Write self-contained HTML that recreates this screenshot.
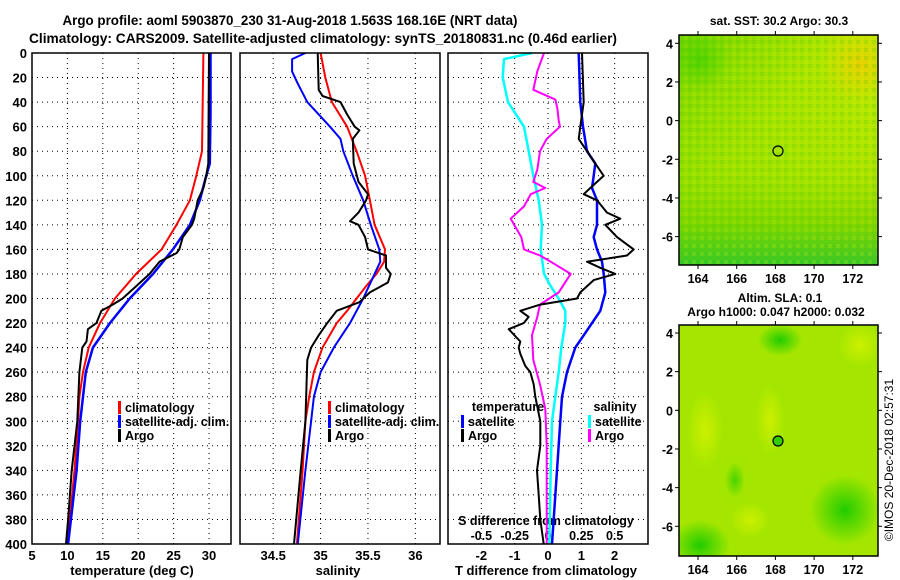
<!DOCTYPE html>
<html><head><meta charset="utf-8"><title>Argo profile</title>
<style>
html,body{margin:0;padding:0;background:#fff;}
svg{display:block;font-family:"Liberation Sans",Arial,sans-serif;font-weight:bold;}
text{fill:#000;}
</style></head>
<body>
<svg id="chart" xmlns="http://www.w3.org/2000/svg" width="900" height="580" viewBox="0 0 900 580">
<defs>
  <clipPath id="c1"><rect x="679" y="35" width="199" height="230"/></clipPath>
  <clipPath id="c2"><rect x="679" y="325" width="199" height="231"/></clipPath>
  <linearGradient id="m1a" x1="0" y1="0" x2="1" y2="1">
    <stop offset="0" stop-color="#70d400"/><stop offset="0.4" stop-color="#b0e600"/><stop offset="0.7" stop-color="#c8ec00"/><stop offset="1" stop-color="#e8e000"/>
  </linearGradient>
  <linearGradient id="m1b" x1="0" y1="0" x2="0" y2="1">
    <stop offset="0" stop-color="#88dc00" stop-opacity="0"/><stop offset="0.6" stop-color="#88dc00" stop-opacity="0.5"/><stop offset="0.82" stop-color="#66d000" stop-opacity="0.75"/><stop offset="1" stop-color="#22c430" stop-opacity="0.9"/>
  </linearGradient>
  <radialGradient id="g1"><stop offset="0" stop-color="#22cc00"/><stop offset="1" stop-color="#22cc00" stop-opacity="0"/></radialGradient>
  <radialGradient id="y1"><stop offset="0" stop-color="#ccf000"/><stop offset="1" stop-color="#ccf000" stop-opacity="0"/></radialGradient>
  <radialGradient id="o1"><stop offset="0" stop-color="#f8c800"/><stop offset="1" stop-color="#f0d800" stop-opacity="0"/></radialGradient>
  <pattern id="tex" width="8" height="8" patternUnits="userSpaceOnUse">
    <rect x="0" y="0" width="4" height="4" fill="#55cc00" opacity="0.25"/>
    <rect x="4" y="4" width="4" height="4" fill="#ddee00" opacity="0.2"/>
  </pattern>
</defs>

<text x="290" y="25" font-size="13.5" text-anchor="middle" textLength="455" lengthAdjust="spacingAndGlyphs">Argo profile: aoml 5903870_230 31-Aug-2018 1.563S 168.16E (NRT data)</text>
<text x="323" y="43" font-size="13.5" text-anchor="middle" textLength="588" lengthAdjust="spacingAndGlyphs">Climatology: CARS2009. Satellite-adjusted climatology: synTS_20180831.nc (0.46d earlier)</text>

<g id="p1"></g>
<g id="p2"></g>
<g id="p3"></g>

<g>
  <text x="779" y="25" font-size="12" text-anchor="middle">sat. SST: 30.2 Argo: 30.3</text>
  <g clip-path="url(#c1)">
  <rect x="679" y="35" width="199" height="230" fill="url(#m1a)"/>
  <rect x="679" y="35" width="199" height="230" fill="url(#m1b)"/>
  <ellipse cx="860" cy="65" rx="40" ry="40" fill="url(#o1)" opacity="0.8"/>
  <rect x="679" y="35" width="199" height="230" fill="url(#tex)"/>
  <ellipse cx="700" cy="60" rx="30" ry="30" fill="url(#g1)" opacity="0.5"/>
  </g>
  <circle cx="778" cy="151" r="5" fill="none" stroke="#000" stroke-width="1.2"/>
  <rect x="679" y="35" width="199" height="230" fill="none" stroke="#000" stroke-width="1.5"/>
  <g id="m1ticks"></g>
</g>
<g>
  <text x="780" y="302" font-size="12" text-anchor="middle">Altim. SLA: 0.1</text>
  <text x="776" y="316" font-size="12" text-anchor="middle">Argo h1000: 0.047 h2000: 0.032</text>
  <g clip-path="url(#c2)">
  <rect x="679" y="325" width="199" height="231" fill="#a4e600"/>
  <ellipse cx="780" cy="340" rx="22" ry="16" fill="url(#g1)"/>
  <ellipse cx="845" cy="510" rx="35" ry="35" fill="url(#g1)"/>
  <ellipse cx="700" cy="545" rx="30" ry="25" fill="url(#g1)"/>
  <ellipse cx="735" cy="480" rx="10" ry="18" fill="url(#g1)" opacity="0.7"/>
  <ellipse cx="705" cy="430" rx="18" ry="40" fill="url(#y1)"/>
  <ellipse cx="770" cy="420" rx="15" ry="35" fill="url(#y1)"/>
  <ellipse cx="860" cy="345" rx="22" ry="22" fill="url(#y1)"/>
  <ellipse cx="750" cy="520" rx="20" ry="18" fill="url(#y1)"/>
  </g>
  <circle cx="778" cy="441" r="5" fill="#33cc00" stroke="#000" stroke-width="1.2"/>
  <rect x="679" y="325" width="199" height="231" fill="none" stroke="#000" stroke-width="1.5"/>
  <g id="m2ticks"></g>
</g>
<text transform="translate(893,460) rotate(-90)" font-size="12" font-weight="normal" text-anchor="middle">©IMOS 20-Dec-2018 02:57:31</text>
</svg>
<script>
const depthTicks = [0,20,40,60,80,100,120,140,160,180,200,220,240,260,280,300,320,340,360,380,400];
const tempTicks = [5,10,15,20,25,30];
const salTicks = [34.5,35,35.5,36];
const tdiffTicks = [-2,-1,0,1,2];
const sdiffTicks = [-0.5,-0.25,0,0.25,0.5];
const sdiffTickLabels = ['-0.5','-0.25','0','0.25','0.5'];

const tClimDepth = [0,80,100,120,140,160,180,200,220,240,260,280,300,340,400];
const tClim =      [29.2,29.0,28.2,27.3,25.4,23.3,19.7,16.7,14.6,13.0,12.2,11.7,11.5,11.0,10.0];
const tSatDepth = [0,50,90,100,120,140,160,180,200,220,240,260,280,300,340,400];
const tSat =      [30.2,30.2,30.1,29.6,28.7,27.3,24.9,22.1,18.8,16.0,13.6,12.6,12.2,11.8,11.3,10.1];
const tArgoDepth = [0,90,100,110,120,135,140,150,160,163,170,180,190,200,205,210,220,225,235,240,260,300,340,380,400];
const tArgo =      [30.0,29.9,29.6,29.2,28.4,27.9,27.6,26.3,25.8,25.4,23.0,21.6,19.7,17.8,16.4,14.8,14.1,12.9,12.7,12.1,11.7,11.4,10.6,10.1,9.8];

const sClimDepth = [0,20,40,60,80,100,120,140,160,170,180,190,200,210,220,240,260,280,300,340,400];
const sClim =      [35.0,35.05,35.12,35.28,35.38,35.47,35.52,35.57,35.68,35.67,35.59,35.48,35.38,35.28,35.17,35.02,34.93,34.88,34.84,34.81,34.75];
const sSatDepth = [0,5,15,25,40,60,70,80,100,120,140,160,170,180,200,220,240,260,280,300,340,400];
const sSat =      [34.84,34.7,34.7,34.76,34.86,35.1,35.21,35.24,35.34,35.45,35.53,35.62,35.63,35.57,35.45,35.31,35.14,35.0,34.93,34.9,34.84,34.76];
const sArgoDepth = [0,30,35,40,50,60,63,70,90,105,115,120,130,137,140,150,160,165,175,180,187,195,203,210,220,230,240,250,300,340,400];
const sArgo =      [34.97,34.98,35.02,35.21,35.28,35.36,35.41,35.34,35.35,35.4,35.5,35.48,35.4,35.31,35.4,35.47,35.5,35.69,35.69,35.74,35.71,35.52,35.41,35.17,35.07,34.98,34.9,34.86,34.84,34.79,34.72];

const dtSatDepth = [0,40,60,80,90,100,110,120,140,150,160,170,180,195,210,220,230,240,260,280,300,340,400];
const dtSat =      [0.92,0.97,1.05,1.17,1.42,1.37,1.32,1.47,1.47,1.37,1.47,1.62,1.67,1.72,1.57,1.32,1.07,0.82,0.57,0.42,0.37,0.27,0.12];
const dtArgoDepth = [0,40,60,70,80,90,100,110,115,120,130,135,140,150,160,165,170,175,180,185,195,200,205,210,215,220,225,235,240,245,255,260,270,280,300,320,340,360,380,400];
const dtArgo =      [1.02,1.07,0.97,0.92,1.17,1.42,1.67,1.27,1.07,1.47,1.77,2.17,1.72,2.07,2.57,2.37,1.17,1.57,2.02,1.37,0.97,0.87,-0.23,-0.83,-0.58,-0.73,-1.18,-0.83,-0.88,-0.83,-0.68,-0.53,-0.43,-0.38,-0.23,-0.23,-0.33,-0.28,-0.23,-0.13];
const dsSatDepth = [0,5,20,40,60,80,100,120,140,160,180,190,200,210,220,240,260,280,300,340,400];
const dsSat =      [-0.12,-0.33,-0.34,-0.3,-0.18,-0.145,-0.11,-0.07,-0.045,-0.055,-0.03,0.02,0.08,0.13,0.13,0.1,0.08,0.055,0.03,0.02,0.01];
const dsArgoDepth = [0,15,30,38,45,55,60,70,80,95,105,110,115,125,135,150,160,165,170,180,185,195,205,215,230,250,270,290,320,400];
const dsArgo =      [-0.03,-0.08,-0.11,0.055,0.07,0.08,0.09,-0.01,-0.06,-0.08,-0.11,-0.02,-0.13,-0.18,-0.28,-0.2,-0.18,-0.06,0.02,0.17,0.14,0.08,-0.06,-0.08,-0.12,-0.11,-0.06,-0.02,-0.01,-0.01];

const latTicks = [4,2,0,-2,-4,-6];
const lonTicks = [164,166,168,170,172];

const NS='http://www.w3.org/2000/svg';
function mk(parent,tag,attrs){const e=document.createElementNS(NS,tag);for(const k in attrs)e.setAttribute(k,attrs[k]);parent.appendChild(e);return e;}
const Y0=53,Y1=544;
const yD = d => Y0 + d*(Y1-Y0)/400;

function panel(g,x0,x1,xmin,xmax,ticks,labels,showDepth){
  const sx = v => x0 + (v-xmin)*(x1-x0)/(xmax-xmin);
  depthTicks.forEach(d=>{ if(d>0&&d<400){
    const l=mk(g,'line',{x1:x0,x2:x1,y1:yD(d),y2:yD(d),stroke:'#000','stroke-width':1,'stroke-dasharray':'1,4'});
    
    
  }});
  ticks.forEach((t,i)=>{
    const x=sx(t);
    const l=mk(g,'line',{x1:x,x2:x,y1:Y0,y2:Y1,stroke:'#000','stroke-width':1,'stroke-dasharray':'1,4'});
    
    
    const tx=mk(g,'text',{x:x,y:560,'font-size':13,'text-anchor':'middle'});
    tx.textContent=labels?labels[i]:String(t);
    
    
  });
  if(showDepth){
    depthTicks.forEach(d=>{
      const tx=mk(g,'text',{x:27,y:yD(d)+5,'font-size':13,'text-anchor':'end'});
      tx.textContent=String(d);
      
      
    });
  }
  return sx;
}
function series(g,xs,ds,sx,color,w,name){
  const pts=xs.map((v,i)=>sx(v).toFixed(1)+','+yD(ds[i]).toFixed(1)).join(' ');
  const p=mk(g,'polyline',{points:pts,fill:'none',stroke:color,'stroke-width':w,'stroke-linejoin':'round'});
  
  
}
function frame(g,x0,x1){
  const r=mk(g,'rect',{x:x0,y:Y0,width:x1-x0,height:Y1-Y0,fill:'none',stroke:'#000','stroke-width':1.5});
  
  
}
function legendItem(g,x,y,color,label,name){
  mk(g,'rect',{x:x,y:y-6,width:3,height:13,fill:color});
  const t=mk(g,'text',{x:x+7,y:y+5,'font-size':12.5});
  t.textContent=label;
  
  
}
function label(g,x,y,txt,name,size){
  const t=mk(g,'text',{x:x,y:y,'font-size':size||13,'text-anchor':'middle'});
  t.textContent=txt;
  
  
}

const p1=document.getElementById('p1');
const sx1=panel(p1,32,231,5,33.1,tempTicks,null,true);
series(p1,tClim,tClimDepth,sx1,'#ff0000',2,'temperature-climatology-line');
series(p1,tSat,tSatDepth,sx1,'#0000ff',2.5,'temperature-satellite-line');
series(p1,tArgo,tArgoDepth,sx1,'#000',2,'temperature-argo-line');
frame(p1,32,231);
legendItem(p1,118,407,'#ff0000','climatology','legend-climatology');
legendItem(p1,118,421,'#0000ff','satellite-adj. clim.','legend-satellite-adj');
legendItem(p1,118,435,'#000','Argo','legend-argo');
label(p1,132,575,'temperature (deg C)','temperature-axis-title');

const p2=document.getElementById('p2');
const sx2=panel(p2,240,440,34.15,36.26,salTicks,null,false);
series(p2,sClim,sClimDepth,sx2,'#ff0000',2,'salinity-climatology-line');
series(p2,sSat,sSatDepth,sx2,'#0000ff',2,'salinity-satellite-line');
series(p2,sArgo,sArgoDepth,sx2,'#000',2,'salinity-argo-line');
frame(p2,240,440);
legendItem(p2,328,407,'#ff0000','climatology','legend-climatology');
legendItem(p2,328,421,'#0000ff','satellite-adj. clim.','legend-satellite-adj');
legendItem(p2,328,435,'#000','Argo','legend-argo');
label(p2,338,575,'salinity','salinity-axis-title');

const p3=document.getElementById('p3');
const sx3=panel(p3,448,648,-3,3,tdiffTicks,null,false);
const sxS = v => 548 + v*133.3;
sdiffTicks.forEach((t,i)=>label(p3,sxS(t),540,sdiffTickLabels[i],'s-diff-tick-label',12.5));
label(p3,546,525,'S difference from climatology','s-diff-axis-title',12.5);
series(p3,dsSat,dsSatDepth,sxS,'#00ffff',2.5,'s-diff-satellite-line');
series(p3,dsArgo,dsArgoDepth,sxS,'#ff00ff',2,'s-diff-argo-line');
series(p3,dtSat,dtSatDepth,sx3,'#0000ff',2.5,'t-diff-satellite-line');
series(p3,dtArgo,dtArgoDepth,sx3,'#000',2,'t-diff-argo-line');
frame(p3,448,648);
label(p3,508,411,'temperature','legend-temperature-header',12.5);
legendItem(p3,461,421,'#0000ff','satellite','legend-t-satellite');
legendItem(p3,461,435,'#000','Argo','legend-t-argo');
label(p3,615,411,'salinity','legend-salinity-header',12.5);
legendItem(p3,588,421,'#00ffff','satellite','legend-s-satellite');
legendItem(p3,588,435,'#ff00ff','Argo','legend-s-argo');
label(p3,546,575,'T difference from climatology','t-diff-axis-title');

function mapTicks(id,top,bot,lat4){
  const g=document.getElementById(id);
  latTicks.forEach(la=>{
    const y=lat4+(4-la)*19.33;
    mk(g,'line',{x1:675,x2:679,y1:y,y2:y,stroke:'#000'});
    mk(g,'line',{x1:878,x2:882,y1:y,y2:y,stroke:'#000'});
    const t=mk(g,'text',{x:673,y:y+5,'font-size':12.5,'text-anchor':'end'});
    t.textContent=String(la);
    
    
  });
  lonTicks.forEach(lo=>{
    const x=698+(lo-164)*19.35;
    mk(g,'line',{x1:x,x2:x,y1:bot,y2:bot+4,stroke:'#000'});
    mk(g,'line',{x1:x,x2:x,y1:top-4,y2:top,stroke:'#000'});
    const t=mk(g,'text',{x:x,y:bot+18,'font-size':12.5,'text-anchor':'middle'});
    t.textContent=String(lo);
    
    
  });
}
mapTicks('m1ticks',35,265,43.3);
mapTicks('m2ticks',325,556,333);
</script>
</body></html>
